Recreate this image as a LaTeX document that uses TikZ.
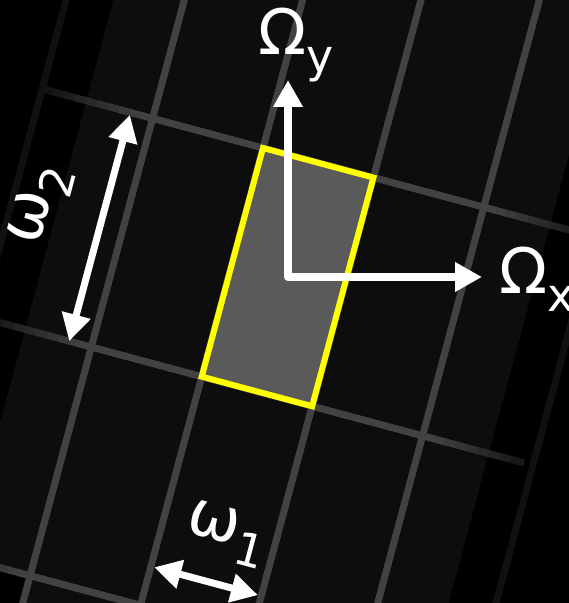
\documentclass[tikz,border=0pt]{standalone}
\usepackage{fontspec}
\setmainfont{DejaVu Sans}
\usetikzlibrary{arrows.meta,positioning}
\definecolor{bgBlack}{HTML}{000000}
\definecolor{cellDark}{HTML}{0D0D0D}
\definecolor{gridGray}{HTML}{424242}
\definecolor{cellHi}{HTML}{5A5A5A}
\definecolor{cellEdge}{HTML}{FFFF00}
\newcommand{\sublab}[2]{#1\raisebox{-18pt}{\fontsize{46}{46}\selectfont #2}}

\begin{document}
\begin{tikzpicture}[
    x=1pt, y=1pt, >={Triangle[length=27pt,width=28pt]},
    lab/.style={text=white, inner sep=0pt, font=\fontsize{63}{63}\selectfont},
    gridline/.style={line width=7pt, line cap=butt},
    cellbox/.style={draw=cellEdge, fill=cellHi, line width=6pt, line join=miter},
    axis/.style={<->, draw=white, line width=8pt, line join=round},
    span/.style={<->, draw=white, line width=7pt},
    gridframe/.style={shift={(263,455)}, rotate=-15, xscale=114.3, yscale=236.7},
  ]
  \fill[bgBlack] (0,0) rectangle (569,603);
  \useasboundingbox (0,0) rectangle (569,603);
  \clip (0,0) rectangle (569,603);
  \begin{scope}[gridframe]
    % dark cells, black at the sides and at the lower left
    \fill[cellDark] (-1.6,1.2) -- (2.6,1.2) -- (2.6,-2.4) -- (-1,-2.4) -- (-1,-2) -- (-1.6,-2) -- cycle;
    % column lines
    \foreach \col/\fd in {-2/25,-1/100,0/100,1/100,2/100,3/25}
      \draw[gridline, draw=gridGray!\fd!black] (\col,-2.4) -- (\col,1.2);
    % row lines, fading towards both ends
    \foreach \row in {0,-1,-2}
      \foreach \s in {-2.0,-1.9,...,2.9} {
        \pgfmathsetmacro{\dist}{abs(\s+0.05-0.5)}
        \pgfmathtruncatemacro{\fade}{\dist<1.6 ? 100 : 100-(\dist-1.6)*83}
        \draw[gridline, draw=gridGray!\fade!black] (\s,\row) -- (\s+0.12,\row);
      }
    % the marked cell
    \draw[cellbox] (0,0) rectangle (1,-1);
    \coordinate (w2top) at (-1.2,-0.01);
    \coordinate (w2bot) at (-1.2,-1);
    \coordinate (w1left) at (0.03,-1.83);
    \coordinate (w1right) at (0.97,-1.83);
  \end{scope}
  % frequency axes
  \coordinate (orig) at (288,326);
  \coordinate (ytip) at (288,523);
  \coordinate (xtip) at (482,326);
  \draw[axis] (ytip) -- (orig) -- (xtip);
  \node[lab, anchor=south, xshift=8pt, yshift=-2pt] (Oy) at (ytip) {\sublab{Ω}{y}};
  \node[lab, right=17pt of xtip, yshift=-2pt] (Ox) {\sublab{Ω}{x}};
  % cell sizes
  \draw[span] (w2bot) -- node[lab, sloped, above=33pt, pos=0.53] (w2lab) {\sublab{ω}{2}} (w2top);
  \draw[span] (w1left) -- node[lab, sloped, above=21pt, pos=0.57] (w1lab) {\sublab{ω}{1}} (w1right);
\end{tikzpicture}
\end{document}
